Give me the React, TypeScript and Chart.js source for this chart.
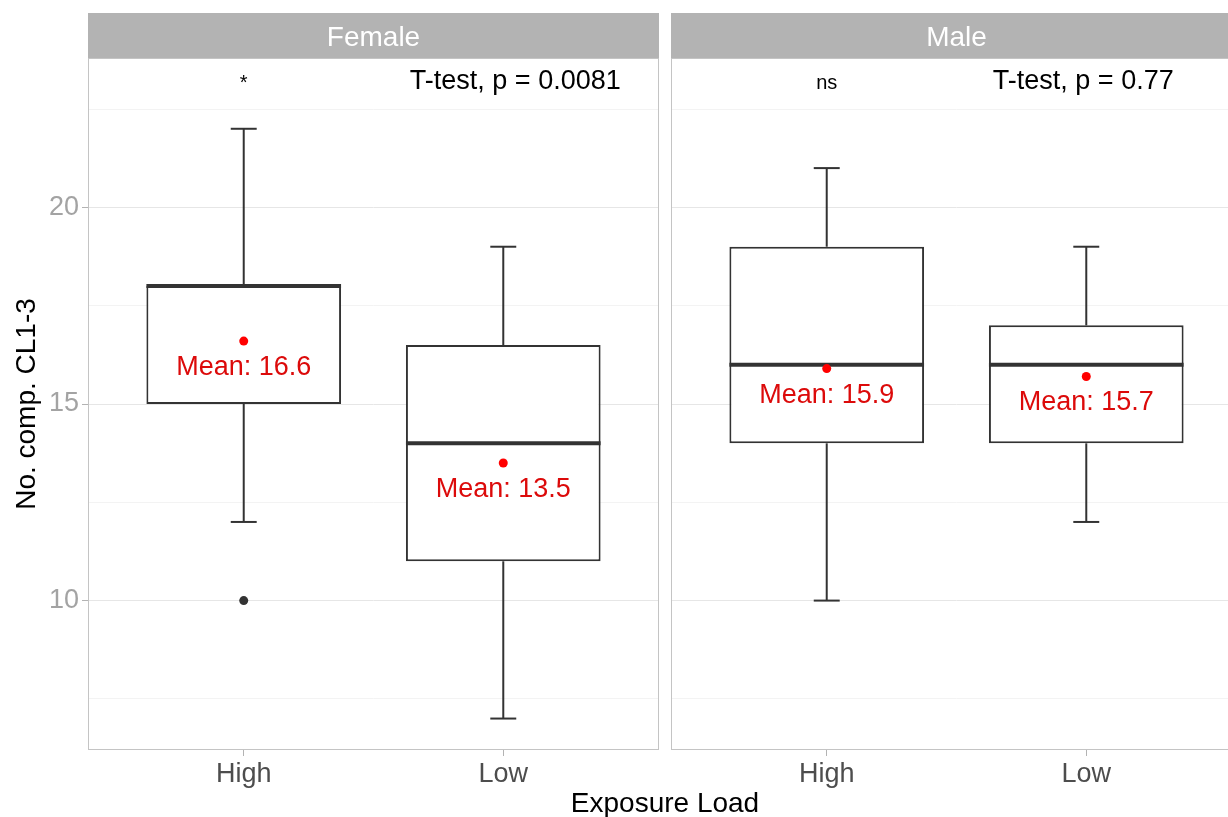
import React, { useEffect, useRef } from 'react';
import { Chart, registerables } from 'chart.js';

Chart.register(...registerables);

const FONT = "'Liberation Sans', Arial, Helvetica, sans-serif";

// ---- data ----
const groups = ['High', 'Low'];
const facets = ['Female', 'Male'];

const femaleMin = [12, 7];
const femaleQ1 = [15, 11];
const femaleMedian = [18, 14];
const femaleQ3 = [18, 16.5];
const femaleMax = [22, 19];
const femaleMean = [16.6, 13.5];
const femaleOutliers = [[10], []];

const maleMin = [10, 12];
const maleQ1 = [14, 14];
const maleMedian = [16, 16];
const maleQ3 = [19, 17];
const maleMax = [21, 19];
const maleMean = [15.9, 15.7];
const maleOutliers = [[], []];

const testLabels = ['T-test, p = 0.0081', 'T-test, p = 0.77'];
const sigLabels = ['*', 'ns'];
const labelY = 23;
const testLabelX = 1.64;

const yMajorTicks = [10, 15, 20];
const yMinorTicks = [7.5, 12.5, 17.5, 22.5];
const yMin = 6.2;
const yMax = 23.8;
const xMin = 0.4;
const xMax = 2.6;

const yTitle = 'No. comp. CL1-3';
const xTitle = 'Exposure Load';

const BOX_WIDTH = 0.75;
const CAP_HALF = 0.05;
const INK = '#333333';

type FacetData = {
  label: string;
  min: number[];
  q1: number[];
  median: number[];
  q3: number[];
  max: number[];
  mean: number[];
  outliers: number[][];
  test: string;
  sig: string;
};

const facetData: FacetData[] = [
  { label: facets[0], min: femaleMin, q1: femaleQ1, median: femaleMedian, q3: femaleQ3, max: femaleMax, mean: femaleMean, outliers: femaleOutliers, test: testLabels[0], sig: sigLabels[0] },
  { label: facets[1], min: maleMin, q1: maleQ1, median: maleMedian, q3: maleQ3, max: maleMax, mean: maleMean, outliers: maleOutliers, test: testLabels[1], sig: sigLabels[1] },
];

const STRIP_TOP = 13;

const facetPlugin = {
  id: 'facet',
  beforeDraw(chart: any, _args: any, opts: any) {
    const { ctx, chartArea: a } = chart;
    ctx.save();
    ctx.fillStyle = '#b3b3b3';
    ctx.fillRect(a.left, STRIP_TOP, a.right - a.left, a.top - STRIP_TOP);
    ctx.fillStyle = '#ffffff';
    ctx.font = `28px ${FONT}`;
    ctx.textAlign = 'center';
    ctx.textBaseline = 'middle';
    ctx.fillText(opts.label, (a.left + a.right) / 2, (STRIP_TOP + a.top) / 2 + 3);
    ctx.restore();
  },
  afterDatasetsDraw(chart: any, _args: any, opts: any) {
    const { ctx } = chart;
    const x = chart.scales.x;
    const y = chart.scales.y;
    ctx.save();
    ctx.textBaseline = 'alphabetic';
    ctx.textAlign = 'center';
    ctx.fillStyle = '#dc0a0a';
    ctx.font = `27px ${FONT}`;
    (opts.means as number[]).forEach((m, i) => {
      ctx.fillText(`Mean: ${m.toFixed(1)}`, x.getPixelForValue(i + 1), y.getPixelForValue(m) + 34);
    });
    ctx.fillStyle = '#000000';
    ctx.font = `20px ${FONT}`;
    ctx.fillText(opts.sig, x.getPixelForValue(1), y.getPixelForValue(labelY));
    ctx.textAlign = 'left';
    ctx.font = `27px ${FONT}`;
    ctx.fillText(opts.test, x.getPixelForValue(testLabelX), y.getPixelForValue(labelY));
    ctx.restore();
  },
  afterDraw(chart: any) {
    const { ctx, chartArea: a } = chart;
    ctx.save();
    ctx.strokeStyle = '#c4c4c4';
    ctx.lineWidth = 1;
    ctx.strokeRect(a.left + 0.5, a.top + 0.5, a.right - a.left - 1, a.bottom - a.top - 1);
    ctx.restore();
  },
};

function seg(x1: number, y1: number, x2: number, y2: number, width: number, order: number) {
  return {
    type: 'line',
    data: [{ x: x1, y: y1 }, { x: x2, y: y2 }],
    borderColor: INK,
    borderWidth: width,
    borderCapStyle: 'butt',
    pointRadius: 0,
    fill: false,
    tension: 0,
    order,
  };
}

function buildDatasets(f: FacetData) {
  const ds: any[] = [];
  ds.push({
    type: 'bar',
    data: groups.map((_, i) => ({ x: i + 1, y: [f.q1[i], f.q3[i]] })),
    backgroundColor: '#ffffff',
    borderColor: INK,
    borderWidth: 2,
    borderSkipped: false,
    categoryPercentage: 1,
    barPercentage: BOX_WIDTH,
    order: 3,
  });
  groups.forEach((_, i) => {
    const c = i + 1;
    ds.push(seg(c, f.q3[i], c, f.max[i], 2, 2));
    ds.push(seg(c, f.min[i], c, f.q1[i], 2, 2));
    ds.push(seg(c - CAP_HALF, f.max[i], c + CAP_HALF, f.max[i], 2, 2));
    ds.push(seg(c - CAP_HALF, f.min[i], c + CAP_HALF, f.min[i], 2, 2));
    ds.push(seg(c - BOX_WIDTH / 2, f.median[i], c + BOX_WIDTH / 2, f.median[i], 4, 1));
  });
  ds.push({
    type: 'scatter',
    data: f.outliers.flatMap((vals, i) => vals.map((v) => ({ x: i + 1, y: v }))),
    backgroundColor: INK,
    borderWidth: 0,
    pointRadius: 4.5,
    order: 0,
  });
  ds.push({
    type: 'scatter',
    data: f.mean.map((m, i) => ({ x: i + 1, y: m })),
    backgroundColor: '#ff0000',
    borderWidth: 0,
    pointRadius: 4.5,
    order: 0,
  });
  return ds;
}

const PANEL_TOP = 58;
const AXIS_W = 88;
const X_AXIS_H = 67;

function FacetChart({ f, showY, width, padLeft, padRight }: { f: FacetData; showY: boolean; width: number; padLeft: number; padRight: number }) {
  const ref = useRef<HTMLCanvasElement>(null);
  useEffect(() => {
    if (!ref.current) return;
    const isMajor = (v: number) => yMajorTicks.includes(v);
    const chart = new Chart(ref.current, {
      type: 'bar',
      data: { datasets: buildDatasets(f) as any },
      plugins: [facetPlugin as any],
      options: {
        responsive: false,
        animation: false,
        devicePixelRatio: 1,
        layout: { padding: { top: PANEL_TOP, left: padLeft, right: padRight, bottom: 0 } },
        plugins: {
          legend: { display: false },
          tooltip: { enabled: false },
          title: { display: false },
          facet: { label: f.label, means: f.mean, test: f.test, sig: f.sig },
        } as any,
        scales: {
          x: {
            type: 'linear',
            min: xMin,
            max: xMax,
            offset: false,
            afterBuildTicks: (s: any) => {
              s.ticks = groups.map((_, i) => ({ value: i + 1 }));
            },
            afterFit: (s: any) => {
              s.height = X_AXIS_H;
            },
            ticks: {
              autoSkip: false,
              maxRotation: 0,
              padding: 2,
              color: '#4d4d4d',
              font: { family: FONT, size: 27 },
              callback: (v: any) => groups[Math.round(Number(v)) - 1] ?? '',
            },
            grid: { drawOnChartArea: false, offset: false, tickLength: 6, tickColor: '#b3b3b3', tickWidth: 1 },
            border: { display: false },
          },
          y: {
            type: 'linear',
            min: yMin,
            max: yMax,
            afterBuildTicks: (s: any) => {
              s.ticks = [...yMinorTicks, ...yMajorTicks].sort((a, b) => a - b).map((v) => ({ value: v }));
            },
            afterFit: (s: any) => {
              s.width = showY ? AXIS_W : 0;
            },
            ticks: {
              display: showY,
              padding: 3,
              color: '#a3a3a3',
              font: { family: FONT, size: 27 },
              callback: (v: any) => (isMajor(Number(v)) ? String(v) : ''),
            },
            grid: {
              color: (ctx: any) => (isMajor(ctx.tick.value) ? '#e6e6e6' : '#f3f3f3'),
              lineWidth: 1,
              drawTicks: showY,
              tickLength: 6,
              tickColor: (ctx: any) => (isMajor(ctx.tick.value) ? '#b3b3b3' : 'rgba(0,0,0,0)'),
            },
            border: { display: false },
            title: {
              display: showY,
              text: yTitle,
              color: '#000000',
              font: { family: FONT, size: 28 },
              padding: { top: 10, bottom: 0 },
            },
          },
        },
      },
    });
    return () => chart.destroy();
  }, [f, showY, width, padLeft, padRight]);
  return <canvas ref={ref} width={width} height={817} style={{ display: 'block', width, height: 817 }} />;
}

export default function App() {
  return (
    <div style={{ position: 'fixed', left: 0, top: 0, width: 1228, height: 817, overflow: 'hidden', background: '#ffffff' }}>
      <div style={{ position: 'absolute', left: 0, top: 0 }}>
        <FacetChart f={facetData[0]} showY={true} width={665} padLeft={0} padRight={6} />
      </div>
      <div style={{ position: 'absolute', left: 665, top: 0 }}>
        <FacetChart f={facetData[1]} showY={false} width={600} padLeft={6} padRight={23} />
      </div>
      <div
        style={{
          position: 'absolute',
          left: 665,
          top: 789,
          transform: 'translateX(-50%)',
          whiteSpace: 'nowrap',
          font: `28px ${FONT}`,
          lineHeight: '28px',
          color: '#000000',
        }}
      >
        {xTitle}
      </div>
    </div>
  );
}
